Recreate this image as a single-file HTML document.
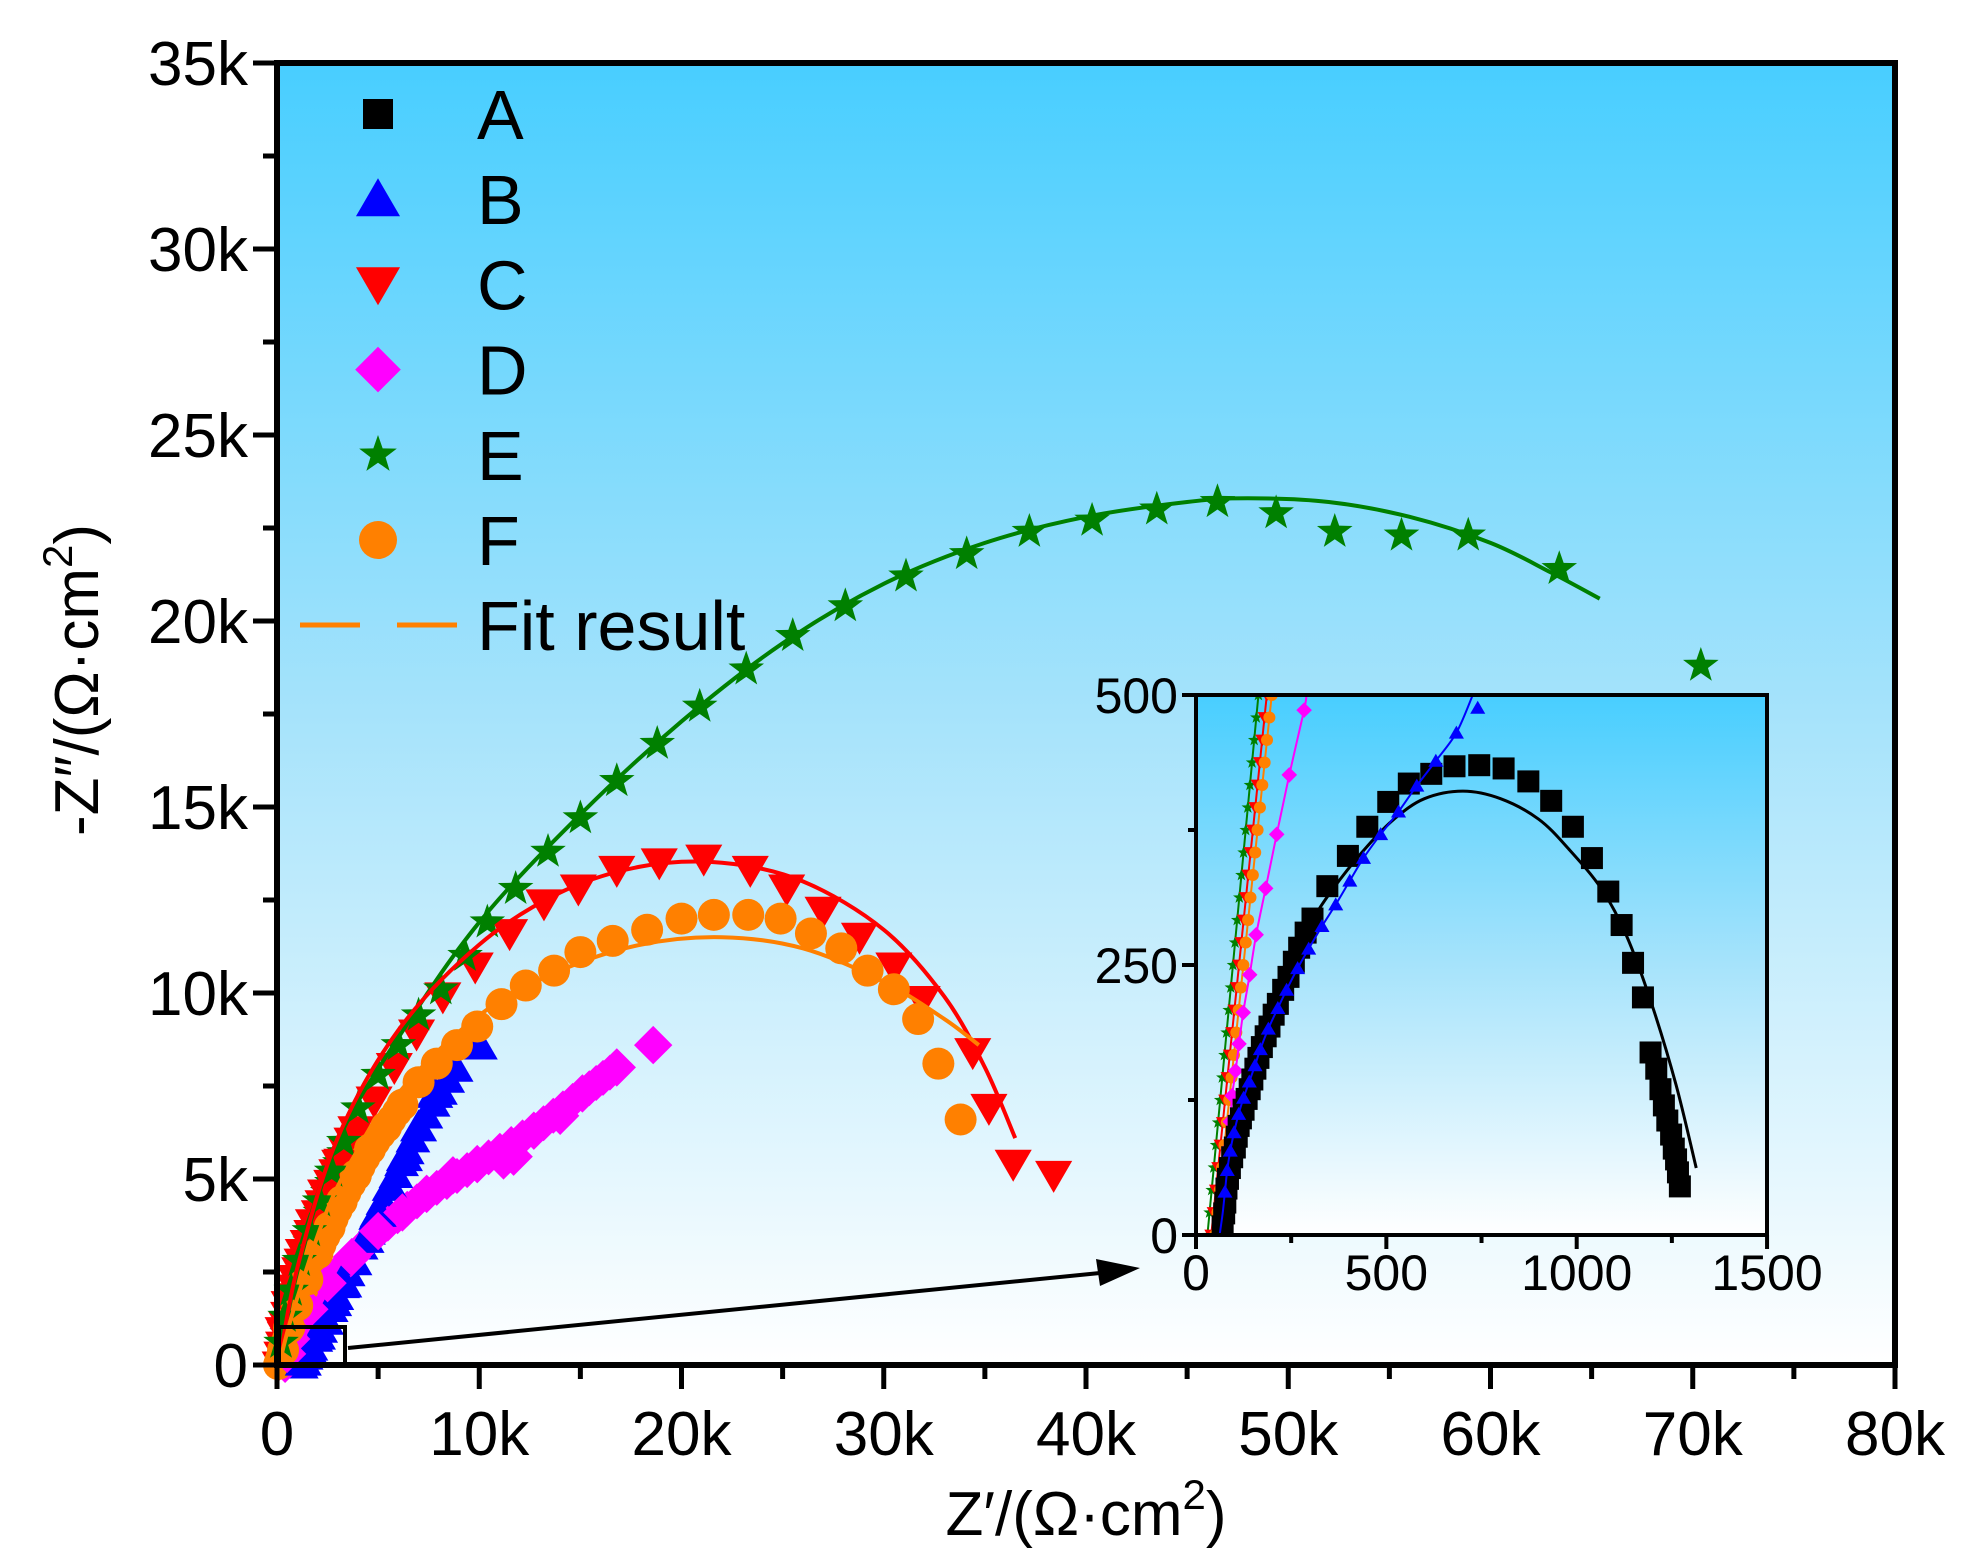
<!DOCTYPE html>
<html><head><meta charset="utf-8"><style>
html,body{margin:0;padding:0;background:#fff;}
svg{display:block;font-family:"Liberation Sans",Arial,sans-serif;}
</style></head><body>
<svg id="s" width="1971" height="1564" viewBox="0 0 1971 1564" xmlns="http://www.w3.org/2000/svg">
<defs>
<linearGradient id="g" x1="0" y1="0" x2="0" y2="1">
<stop offset="0" stop-color="#48CEFF"/><stop offset="0.5" stop-color="#A6E3FB"/><stop offset="1" stop-color="#FFFFFF"/>
</linearGradient>
</defs>
<rect x="277" y="63" width="1618" height="1302" fill="url(#g)"/>
<g id="main"></g>
<g id="axes"></g>
</svg>
<script>
var NS="http://www.w3.org/2000/svg";
var root=document.getElementById('main'), ax=document.getElementById('axes');
function el(t,a,p){var e=document.createElementNS(NS,t);for(var k in a)e.setAttribute(k,a[k]);(p||root).appendChild(e);return e;}
function X(v){return 277+v*20.225;} function Y(v){return 1365-v*37.2;}
function marker(type,x,y,s,c,p){
 if(type=='sq')el('rect',{x:x-s/2,y:y-s/2,width:s,height:s,fill:c},p);
 else if(type=='up')el('polygon',{points:[x,y-s*0.55,x+s*0.58,y+s*0.45,x-s*0.58,y+s*0.45].join(' '),fill:c},p);
 else if(type=='dn')el('polygon',{points:[x,y+s*0.55,x+s*0.58,y-s*0.45,x-s*0.58,y-s*0.45].join(' '),fill:c},p);
 else if(type=='di')el('polygon',{points:[x,y-s*0.6,x+s*0.6,y,x,y+s*0.6,x-s*0.6,y].join(' '),fill:c},p);
 else if(type=='ci')el('circle',{cx:x,cy:y,r:s/2,fill:c},p);
 else if(type=='st'){var pts=[];for(var i=0;i<10;i++){var r=i%2?s*0.22:s*0.55,a=-Math.PI/2+i*Math.PI/5;pts.push(x+r*Math.cos(a),y+r*Math.sin(a));}el('polygon',{points:pts.join(' '),fill:c},p);}
}
function interp(pts,n){
 var out=[];for(var i=0;i<pts.length-1;i++){for(var j=0;j<n;j++){var t=j/n;out.push([pts[i][0]+(pts[i+1][0]-pts[i][0])*t,pts[i][1]+(pts[i+1][1]-pts[i][1])*t]);}}out.push(pts[pts.length-1]);return out;}
function line(pts,fx,fy,c,w,p){
 var P=pts.map(function(q){return [fx(q[0]),fy(q[1])];});
 var d='M'+P[0][0]+','+P[0][1];
 for(var i=0;i<P.length-1;i++){var p0=P[i-1]||P[i],p1=P[i],p2=P[i+1],p3=P[i+2]||p2;
  var c1=[p1[0]+(p2[0]-p0[0])/6,p1[1]+(p2[1]-p0[1])/6],c2=[p2[0]-(p3[0]-p1[0])/6,p2[1]-(p3[1]-p1[1])/6];
  d+=' C'+c1[0]+','+c1[1]+' '+c2[0]+','+c2[1]+' '+p2[0]+','+p2[1];}
 el('path',{d:d,fill:'none',stroke:c,'stroke-width':w,'stroke-linejoin':'round'},p);}

var E=[[70.4,18.8],[63.4,21.4],[58.9,22.3],[55.6,22.3],[52.3,22.4],[49.4,22.9],[46.5,23.2],[43.5,23.0],[40.3,22.7],[37.2,22.4],[34.1,21.8],[31.1,21.2],[28.1,20.4],[25.5,19.6],[23.2,18.7],[20.9,17.7],[18.8,16.7],[16.8,15.7],[15.0,14.7],[13.4,13.8],[11.8,12.8],[10.4,11.9],[9.3,11.0],[8.1,10.1],[7.0,9.4],[6.0,8.6],[5.0,7.8],[4.0,6.9],[3.3,6.0],[2.7,5.2],[2.1,4.4],[1.6,3.6],[1.1,2.8],[0.7,2.0],[0.4,1.3],[0.2,0.6]];
var Efit=[[0.1,0],[1,2.5],[3,6],[6,8.8],[10,11.9],[15,14.8],[20,17.3],[25,19.4],[30,21],[35,22.1],[40,22.8],[45,23.2],[48,23.3],[52,23.2],[56,22.8],[60,22.1],[63,21.3],[65.4,20.6]];
var C=[[38.4,5.1],[36.4,5.4],[35.2,6.9],[34.4,8.4],[31.9,9.8],[30.5,10.7],[28.8,11.5],[27.0,12.2],[25.2,12.8],[23.4,13.3],[21.1,13.6],[18.9,13.5],[16.8,13.3],[14.9,12.8],[13.2,12.4],[11.5,11.6],[9.8,10.7],[8.2,9.9],[6.9,8.9],[5.8,8.0],[4.8,7.1],[3.9,6.3],[3.1,5.4],[2.4,4.6],[1.8,3.8],[1.3,3.0],[0.9,2.3],[0.6,1.6],[0.3,0.9]];
var Cfit=[[0.1,0],[1,2.6],[3,6.1],[6,9],[10,11.3],[14,12.7],[18,13.4],[22,13.5],[26,13],[30,11.7],[33,9.9],[35,8],[36.5,6.1]];
var F=[[33.8,6.6],[32.7,8.1],[31.7,9.3],[30.5,10.1],[29.2,10.6],[27.9,11.2],[26.4,11.6],[24.9,12.0],[23.3,12.1],[21.6,12.1],[20.0,12.0],[18.3,11.7],[16.6,11.4],[15.0,11.1],[13.7,10.6],[12.3,10.2],[11.1,9.7],[9.9,9.1],[8.9,8.6],[7.9,8.1],[7.0,7.6],[6.2,7.0],[5.4,6.4],[4.6,5.8],[3.9,5.1],[3.2,4.4],[2.6,3.7],[2.0,3.0],[1.5,2.3],[1.0,1.6],[0.6,1.0],[0.3,0.4]];
var Ffit=[[0.1,0],[1,1.8],[3,4.8],[6,7.3],[10,9.4],[14,10.6],[18,11.3],[22,11.5],[26,11.2],[30,10.3],[33,9.3],[34.7,8.6]];
var B=[[10.0,8.6],[8.8,8.0],[7.8,7.3],[7.0,6.4],[6.3,5.6],[5.6,4.8],[5.0,4.1],[4.4,3.4],[3.8,2.8],[3.3,2.2],[2.8,1.7],[2.4,1.2],[2.0,0.8],[1.6,0.4],[1.3,0.1]];
var D=[[18.6,8.6],[16.8,8.0],[15.1,7.3],[14.0,6.7],[12.7,6.3],[11.7,5.6],[11.2,5.5],[9.9,5.4],[8.7,5.1],[7.4,4.6],[6.2,4.1],[5.0,3.6],[3.7,2.9],[2.5,2.2],[1.6,1.5],[0.7,0.7],[0.5,0.3]];

function dense(pts,s,type,c,p){pts.forEach(function(q){marker(type,X(q[0]),Y(q[1]),s,c,p);});}
dense(interp([[0.1,0],[0.4,1.3],[1.1,2.8],[2.1,4.4],[3.3,6.0]],6),26,'st','#008000');
dense(interp([[0.1,0],[0.6,1.6],[1.3,3.0],[2.4,4.6],[3.9,6.3]],6),30,'dn','#FF0000');
dense(interp([[1.2,0],[2.4,1.2],[3.8,2.8],[5.6,4.8],[7.0,6.4],[8.8,8.0]],5),30,'up','#0000FF');
dense(interp([[0.4,0],[0.7,0.7],[1.6,1.5],[2.5,2.2],[3.7,2.9],[5.0,3.6],[7.4,4.6],[9.9,5.4],[12.7,6.3],[15.1,7.3],[16.8,8.0]],5),30,'di','#FF00FF');
dense(interp([[0.05,0],[0.3,0.4],[1.0,1.6],[2.0,3.0],[3.2,4.4],[4.6,5.8],[6.2,7.0]],6),30,'ci','#FF8000');
dense(B,32,'up','#0000FF');
dense(D,32,'di','#FF00FF');
dense(C,32,'dn','#FF0000');
dense(F,32,'ci','#FF8000');
dense(E,34,'st','#008000');
line(Efit,X,Y,'#008000',4);
line(Cfit,X,Y,'#FF0000',4);
line(Ffit,X,Y,'#FF8000',4);

function txt(x,y,s,size,anchor,p,extra){var t=el('text',{x:x,y:y,'font-size':size,'text-anchor':anchor||'middle',fill:'#000'},p);t.textContent=s;if(extra)for(var k in extra)t.setAttribute(k,extra[k]);return t;}
el('rect',{x:277,y:63,width:1618,height:1302,fill:'none',stroke:'#000','stroke-width':6},ax);
for(var v=0;v<=80;v+=5){var x=X(v);el('line',{x1:x,y1:1365,x2:x,y2:1365+(v%10?14:24),stroke:'#000','stroke-width':5},ax);
 if(v%10==0)txt(x,1455,v?v+'k':'0',62,'middle',ax);}
for(var v=0;v<=35;v+=2.5){var y=Y(v);el('line',{x1:277,y1:y,x2:277-(v%5?14:24),y2:y,stroke:'#000','stroke-width':5},ax);
 if(v%5==0)txt(248,y+22,v?v+'k':'0',62,'end',ax);}
var xt=txt(1086,1535,'',62,'middle',ax);xt.innerHTML='Z′/(Ω·cm<tspan dy="-26" font-size="42">2</tspan><tspan dy="26">)</tspan>';
var yt=txt(0,0,'',62,'middle',ax,{transform:'translate(98,680) rotate(-90)'});yt.innerHTML='-Z″/(Ω·cm<tspan dy="-26" font-size="42">2</tspan><tspan dy="26">)</tspan>';

var L=[['sq','#000','A'],['up','#0000FF','B'],['dn','#FF0000','C'],['di','#FF00FF','D'],['st','#008000','E'],['ci','#FF8000','F']];
L.forEach(function(l,i){var y=114+i*85.2;marker(l[0],378,y,l[0]=='st'?36:(l[0]=='sq'?30:38),l[1],ax);txt(477,y+25,l[2],70,'start',ax);});
el('line',{x1:300,y1:625,x2:360,y2:625,stroke:'#FF8000','stroke-width':5},ax);
el('line',{x1:397,y1:625,x2:457,y2:625,stroke:'#FF8000','stroke-width':5},ax);
txt(477,650,'Fit result',70,'start',ax);

el('rect',{x:279,y:1327,width:66,height:38,fill:'none',stroke:'#000','stroke-width':4},ax);
el('line',{x1:348,y1:1348,x2:1110,y2:1272,stroke:'#000','stroke-width':4},ax);
el('polygon',{points:'1140,1268 1096,1259 1100,1286',fill:'#000'},ax);

function IX(v){return 1196+v*0.3807;} function IY(v){return 1235-v*1.08;}
el('rect',{x:1196,y:695,width:571,height:540,fill:'url(#g)'},ax);
var ins=el('g',{},ax);
var clip=el('clipPath',{id:'ic'},ax);el('rect',{x:1196,y:695,width:571,height:540},clip);
ins.setAttribute('clip-path','url(#ic)');
function ilin(a,b,n){var o=[];for(var i=0;i<=n;i++){var t=i/n;o.push([a[0]+(b[0]-a[0])*t,a[1]+(b[1]-a[1])*t]);}return o;}
[['#008000','st',[30,0],[164,500]],['#FF0000','dn',[40,0],[186,500]],['#FF8000','ci',[50,0],[199,500]]].forEach(function(s){
 line([s[2],s[3]],IX,IY,s[0],2,ins);
 ilin(s[2],s[3],24).forEach(function(q){marker(s[1],IX(q[0]),IY(q[1]),12,s[0],ins);});
});
var Dp=[[68,0],[72,20],[76,40],[80,60],[85,80],[90,105],[95,129],[104,152],[113,177],[124,206],[141,241],[158,278],[183,321],[212,371],[245,426],[284,486],[290,500]];
line(Dp,IX,IY,'#FF00FF',2,ins);
Dp.slice(0,16).forEach(function(q){marker('di',IX(q[0]),IY(q[1]),13,'#FF00FF',ins);});
var Af=[[72,0],[85,40],[105,85],[135,135],[170,180],[210,220],[260,262],[320,300],[380,330],[450,360],[520,385],[600,404],[701,411],[800,404],[900,385],[980,357],[1066,320],[1131,277],[1196,215],[1261,139],[1314,62]];
var A=[[70,8],[74,20],[77,30],[80,43],[84,52],[89,62],[95,72],[102,81],[107,91],[112,101],[118,108],[125,116],[133,126],[141,135],[148,144],[156,154],[164,164],[173,174],[183,184],[193,193],[204,204],[215,214],[229,227],[243,239],[257,253],[271,266],[288,280],[306,293],[345,323],[399,351],[450,378],[505,401],[559,418],[618,427],[679,434],[744,435],[808,432],[873,420],[933,402],[990,378],[1040,349],[1083,318],[1118,287],[1148,252],[1174,220],[1194,169],[1209,154],[1220,135],[1229,120],[1238,106],[1248,93],[1255,80],[1261,70],[1266,58],[1271,45]];
A.forEach(function(q){marker('sq',IX(q[0]),IY(q[1]),22,'#000',ins);});
line(Af,IX,IY,'#000',3,ins);
var Bt=[[62,0],[70,20],[76,40],[82,60],[90,78],[100,95],[112,112],[125,127],[140,142],[155,157],[169,172],[190,191],[215,210],[238,227],[267,247],[296,265],[331,286],[367,306],[404,328],[440,349],[485,371],[532,392],[580,416],[630,439],[684,465],[740,488]];
line(Bt.slice(0,25).concat([[727,500]]),IX,IY,'#0000FF',2,ins);
Bt.slice(2).forEach(function(q){marker('up',IX(q[0]),IY(q[1]),13,'#0000FF',ins);});
el('rect',{x:1196,y:695,width:571,height:540,fill:'none',stroke:'#000','stroke-width':4},ax);
for(var v=0;v<=1500;v+=250){var x=IX(v);el('line',{x1:x,y1:1235,x2:x,y2:1235+(v%500?8:14),stroke:'#000','stroke-width':4},ax);if(v%500==0)txt(x,1290,String(v),50,'middle',ax);}
for(var v=0;v<=500;v+=125){var y=IY(v);el('line',{x1:1196,y1:y,x2:1196-(v%250?8:14),y2:y,stroke:'#000','stroke-width':4},ax);if(v%250==0)txt(1178,y+18,String(v),50,'end',ax);}
</script>
</body></html>
